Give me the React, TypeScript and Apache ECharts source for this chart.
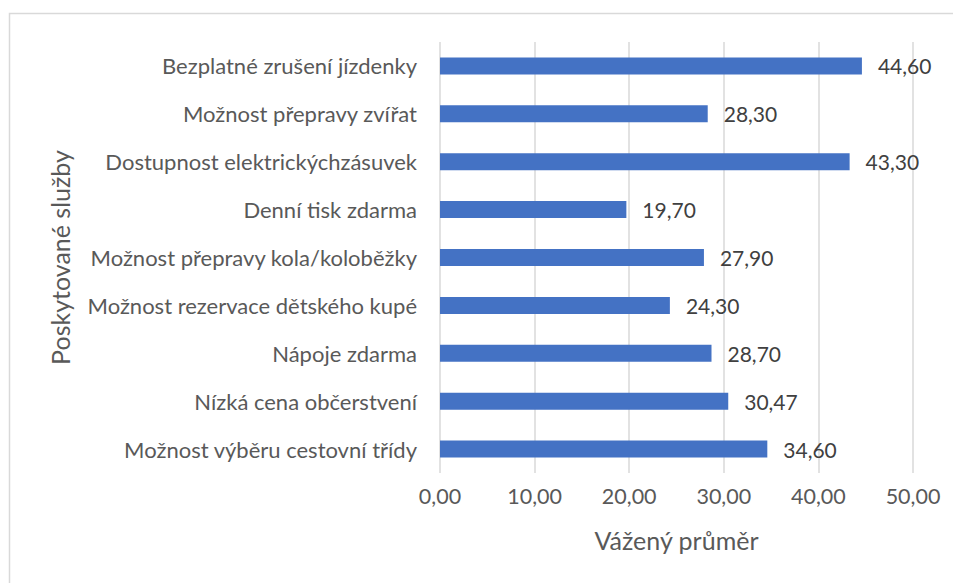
import React, { useEffect, useRef } from "react";
import * as echarts from "echarts";

const categories = [
  "Bezplatné zrušení jízdenky",
  "Možnost přepravy zvířat",
  "Dostupnost elektrickýchzásuvek",
  "Denní tisk zdarma",
  "Možnost přepravy kola/koloběžky",
  "Možnost rezervace dětského kupé",
  "Nápoje zdarma",
  "Nízká cena občerstvení",
  "Možnost výběru cestovní třídy",
];
const values = [44.6, 28.3, 43.3, 19.7, 27.9, 24.3, 28.7, 30.47, 34.6];
const xTitle = "Vážený průměr";
const yTitle = "Poskytované služby";

const fmt = (v: number) => v.toFixed(2).replace(".", ",");
const FONT = "Lato";

export default function App() {
  const ref = useRef<HTMLDivElement>(null);
  useEffect(() => {
    if (!ref.current) return;
    const chart = echarts.init(ref.current, undefined, { renderer: "svg" });
    chart.setOption({
      animation: false,
      backgroundColor: "#ffffff",
      textStyle: { fontFamily: FONT },
      graphic: [
        {
          type: "rect",
          shape: { x: 9.5, y: 13.5, width: 1000, height: 1000 },
          style: { fill: "none", stroke: "#d9d9d9", lineWidth: 1.5 },
          silent: true,
        },
      ],
      grid: { left: 440, right: 40, top: 42, bottom: 110 },
      xAxis: {
        type: "value",
        min: 0,
        max: 50,
        interval: 10,
        name: xTitle,
        nameLocation: "middle",
        nameGap: 54,
        nameTextStyle: { fontFamily: FONT, fontSize: 25, color: "#595959" },
        axisLine: { show: false },
        axisTick: { show: false },
        axisLabel: {
          formatter: (v: number) => fmt(v),
          fontFamily: FONT,
          fontSize: 21.5,
          color: "#595959",
          margin: 12,
        },
        splitLine: { show: true, lineStyle: { color: "#d9d9d9", width: 1.5 } },
      },
      yAxis: {
        type: "category",
        data: categories,
        inverse: true,
        name: yTitle,
        nameLocation: "middle",
        nameGap: 368,
        nameRotate: 90,
        nameTextStyle: { fontFamily: FONT, fontSize: 25, color: "#595959" },
        axisLine: { show: false },
        axisTick: { show: false },
        axisLabel: {
          fontFamily: FONT,
          fontSize: 22,
          color: "#595959",
          margin: 23,
        },
      },
      series: [
        {
          type: "bar",
          data: values,
          barWidth: 17,
          itemStyle: { color: "#4472C4" },
          label: {
            show: true,
            position: "right",
            distance: 16,
            formatter: (p: any) => fmt(p.value),
            fontFamily: FONT,
            fontSize: 21,
            color: "#404040",
          },
        },
      ],
    });
    return () => chart.dispose();
  }, []);
  return (
    <div
      ref={ref}
      style={{ position: "fixed", left: 0, top: 0, width: 953, height: 583 }}
    />
  );
}
